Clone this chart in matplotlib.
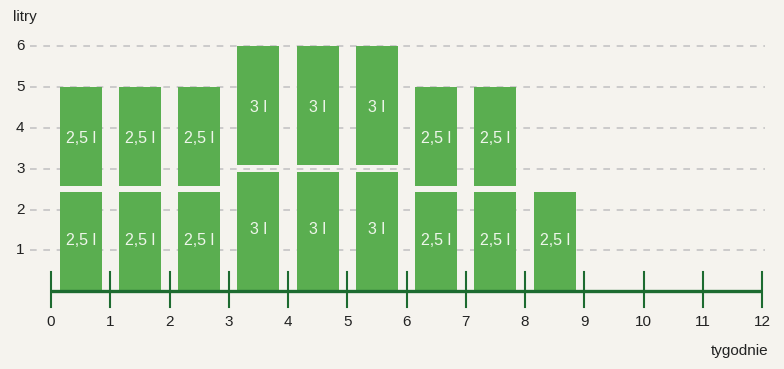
import matplotlib
matplotlib.use('Agg')
import matplotlib.pyplot as plt

# dane: tygodnie i litry w dwóch częściach słupka
weeks = [0, 1, 2, 3, 4, 5, 6, 7, 8]
lower = [2.5, 2.5, 2.5, 3, 3, 3, 2.5, 2.5, 2.5]
upper = [2.5, 2.5, 2.5, 3, 3, 3, 2.5, 2.5, 0]
x_ticks = list(range(0, 13))
y_ticks = [1, 2, 3, 4, 5, 6]

BG = '#f5f3ee'
GREEN = '#5aae50'
DARK = '#1d6b30'
GRID = '#c4c4c4'
GAP = 0.16  # odstęp między częściami słupka

plt.rcParams['font.family'] = ['Liberation Sans', 'DejaVu Sans']

fig = plt.figure(figsize=(7.84, 3.69), dpi=100, facecolor=BG)
ax = fig.add_axes([0, 0, 1, 1])
ax.set_facecolor(BG)
ax.set_xlim(-0.861, 12.371)
ax.set_ylim(-1.914, 7.141)
ax.axis('off')

# siatka pozioma
for y in y_ticks:
    ax.plot([-0.35, 12.05], [y, y], color=GRID, lw=1.2, ls=(0, (4, 4)), zorder=1)
    ax.text(-0.52, y, str(y), ha='center', va='center', fontsize=11, color='#222222')

# słupki
centers = [w + 0.5 for w in weeks]
lo_h = [v - GAP / 2 for v in lower]
up_b = [v + GAP / 2 for v in lower]
up_h = [u - GAP / 2 if u > 0 else 0 for u in upper]
ax.bar(centers, lo_h, width=0.71, color=GREEN, lw=0, zorder=2)
ax.bar(centers, up_h, bottom=up_b, width=0.71, color=GREEN, lw=0, zorder=2)

def fmt(v):
    return ('%g l' % v).replace('.', ',')

for c, lo, up in zip(centers, lower, upper):
    ax.text(c, lo / 2, fmt(lo), ha='center', va='center', fontsize=11.5, color='#eef6ea', zorder=3)
    if up > 0:
        ax.text(c, lo + up / 2, fmt(up), ha='center', va='center', fontsize=11.5, color='#eef6ea', zorder=3)

# oś x
ax.plot([0, 12], [0, 0], color=DARK, lw=2.4, zorder=4, solid_capstyle='butt')
for t in x_ticks:
    ax.plot([t, t], [-0.39, 0.47], color=DARK, lw=1.5, zorder=4)
    ax.text(t, -0.76, str(t), ha='center', va='center', fontsize=11, color='#222222')

ax.text(-0.65, 6.72, 'litry', ha='left', va='center', fontsize=11, color='#222222')
ax.text(12.1, -1.47, 'tygodnie', ha='right', va='center', fontsize=11, color='#222222')

fig.savefig('out.png', dpi=100, facecolor=BG)
